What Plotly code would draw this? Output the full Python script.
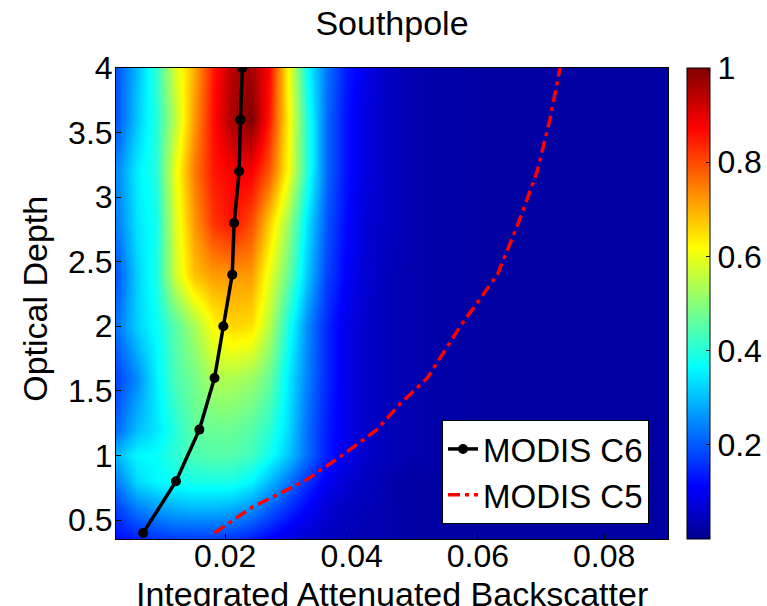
import plotly.graph_objects as go

# ---- data -------------------------------------------------------------
x_cols = [0.003, 0.006, 0.009, 0.012, 0.015, 0.018, 0.021, 0.024, 0.027, 0.030,
          0.033, 0.036, 0.039, 0.042, 0.046, 0.050, 0.060, 0.070, 0.080, 0.090]
y_rows = [0.35, 0.6, 0.8, 1.0, 1.2, 1.6, 2.0, 2.4, 2.8, 3.2, 3.6, 4.0]

z_r035 = [0.12, 0.14, 0.16, 0.17, 0.17, 0.17, 0.16, 0.14, 0.11, 0.08, 0.06, 0.05, 0.04, 0.03, 0.03, 0.02, 0.02, 0.02, 0.02, 0.02]
z_r060 = [0.18, 0.24, 0.27, 0.29, 0.30, 0.30, 0.29, 0.26, 0.21, 0.16, 0.11, 0.07, 0.05, 0.04, 0.03, 0.02, 0.02, 0.02, 0.02, 0.02]
z_r080 = [0.24, 0.33, 0.36, 0.38, 0.39, 0.39, 0.39, 0.36, 0.30, 0.23, 0.16, 0.10, 0.07, 0.05, 0.03, 0.02, 0.02, 0.02, 0.02, 0.02]
z_r100 = [0.30, 0.36, 0.37, 0.41, 0.44, 0.45, 0.45, 0.43, 0.38, 0.31, 0.22, 0.14, 0.09, 0.06, 0.04, 0.03, 0.02, 0.02, 0.02, 0.02]
z_r120 = [0.22, 0.30, 0.34, 0.40, 0.46, 0.47, 0.47, 0.45, 0.41, 0.33, 0.22, 0.14, 0.09, 0.06, 0.04, 0.03, 0.02, 0.02, 0.02, 0.02]
z_r160 = [0.18, 0.25, 0.35, 0.44, 0.48, 0.54, 0.54, 0.52, 0.47, 0.35, 0.24, 0.15, 0.09, 0.06, 0.04, 0.03, 0.02, 0.02, 0.02, 0.02]
z_r200 = [0.23, 0.32, 0.37, 0.45, 0.53, 0.62, 0.66, 0.65, 0.55, 0.39, 0.25, 0.15, 0.09, 0.06, 0.04, 0.03, 0.02, 0.02, 0.02, 0.02]
z_r240 = [0.20, 0.32, 0.39, 0.57, 0.68, 0.72, 0.72, 0.72, 0.60, 0.47, 0.31, 0.18, 0.11, 0.07, 0.04, 0.03, 0.02, 0.02, 0.02, 0.02]
z_r280 = [0.24, 0.34, 0.38, 0.58, 0.72, 0.82, 0.86, 0.80, 0.67, 0.52, 0.34, 0.20, 0.12, 0.07, 0.05, 0.03, 0.02, 0.02, 0.02, 0.02]
z_r320 = [0.25, 0.35, 0.40, 0.60, 0.75, 0.85, 0.88, 0.88, 0.79, 0.62, 0.40, 0.22, 0.13, 0.08, 0.05, 0.03, 0.02, 0.02, 0.02, 0.02]
z_r360 = [0.20, 0.31, 0.40, 0.55, 0.72, 0.86, 0.96, 1.00, 0.85, 0.63, 0.40, 0.22, 0.13, 0.08, 0.05, 0.03, 0.02, 0.02, 0.02, 0.02]
z_r400 = [0.20, 0.30, 0.41, 0.58, 0.70, 0.85, 0.95, 0.97, 0.87, 0.62, 0.37, 0.23, 0.14, 0.09, 0.05, 0.03, 0.02, 0.02, 0.02, 0.02]

c6_x = [0.0070, 0.0122, 0.0159, 0.0183, 0.0197, 0.0211, 0.0214, 0.0222, 0.0224, 0.0227]
c6_y = [0.4, 0.8, 1.2, 1.6, 2.0, 2.4, 2.8, 3.2, 3.6, 4.0]

c5_x = [0.0183, 0.0243, 0.0325, 0.0385, 0.0440, 0.0477, 0.0520, 0.0572, 0.0631, 0.0664, 0.0694, 0.0714, 0.0730]
c5_y = [0.4, 0.6, 0.8, 1.0, 1.2, 1.4, 1.6, 2.0, 2.4, 2.8, 3.2, 3.6, 4.0]

x_ticks = [0.02, 0.04, 0.06, 0.08]
x_ticklabels = ["0.02", "0.04", "0.06", "0.08"]
y_ticks = [0.5, 1, 1.5, 2, 2.5, 3, 3.5, 4]
y_ticklabels = ["0.5", "1", "1.5", "2", "2.5", "3", "3.5", "4"]
cb_ticks = [0.2, 0.4, 0.6, 0.8, 1.0]
cb_ticklabels = ["0.2", "0.4", "0.6", "0.8", "1"]

z = [z_r035, z_r060, z_r080, z_r100, z_r120, z_r160, z_r200,
     z_r240, z_r280, z_r320, z_r360, z_r400]

# MATLAB-style jet
jet = [
    [0.0, "rgb(0,0,143)"],
    [0.111, "rgb(0,0,255)"],
    [0.365, "rgb(0,255,255)"],
    [0.619, "rgb(255,255,0)"],
    [0.873, "rgb(255,0,0)"],
    [1.0, "rgb(128,0,0)"],
]

FONT = "Liberation Sans, Arial, Helvetica, sans-serif"
FS_TICK = 32
FS_LABEL = 34
FS_LEG = 33

fig = go.Figure()
fig.add_trace(go.Heatmap(
    x=x_cols, y=y_rows, z=z, zmin=0, zmax=1, colorscale=jet, zsmooth="best",
    showscale=True, hoverinfo="skip",
    colorbar=dict(
        x=1.0344, xanchor="left", y=0.5, yanchor="middle",
        len=1, lenmode="fraction", thickness=23,
        outlinecolor="black", outlinewidth=1,
        tickvals=cb_ticks, ticktext=cb_ticklabels,
        ticks="inside", ticklen=4, tickcolor="black",
        tickfont=dict(family=FONT, size=FS_TICK, color="black"),
        xpad=0, ypad=0,
    ),
))
fig.add_trace(go.Scatter(
    x=c6_x, y=c6_y, mode="lines+markers", name="MODIS C6",
    line=dict(color="black", width=3.5),
    marker=dict(color="black", size=10),
))
fig.add_trace(go.Scatter(
    x=c5_x, y=c5_y, mode="lines", name="MODIS C5",
    line=dict(color="red", width=3.5, dash="12px,5px,4px,5px"),
))

fig.update_layout(
    width=767, height=606,
    margin=dict(l=116, r=99, t=68, b=67, autoexpand=False),
    paper_bgcolor="white", plot_bgcolor="white",
    font=dict(family=FONT, size=FS_TICK, color="black"),
    title=dict(text="Southpole", x=0.5, xref="paper", xanchor="center",
               y=1 - 11 / 606, yref="container", yanchor="top",
               font=dict(family=FONT, size=FS_LABEL, color="black")),
    showlegend=True,
    legend=dict(
        x=0.5906, y=0.2527, xanchor="left", yanchor="top",
        bgcolor="white", bordercolor="black", borderwidth=1,
        font=dict(family=FONT, size=FS_LEG, color="black"),
        tracegroupgap=0, itemwidth=30,
    ),
    annotations=[
        dict(text="Integrated Attenuated Backscatter", xref="paper", yref="paper",
             x=0.5, y=-0.1168, xanchor="center", yanchor="middle", showarrow=False,
             font=dict(family=FONT, size=FS_LABEL, color="black")),
        dict(text="Optical Depth", xref="paper", yref="paper",
             x=-0.1467, y=0.51, xanchor="center", yanchor="middle", showarrow=False,
             textangle=-90, font=dict(family=FONT, size=FS_LABEL, color="black")),
    ],
)
fig.update_xaxes(
    range=[0.0027, 0.0901], tickvals=x_ticks, ticktext=x_ticklabels,
    ticks="inside", ticklen=5, tickcolor="black", showline=True,
    linecolor="black", linewidth=1, mirror=True, showgrid=False, zeroline=False,
    tickfont=dict(family=FONT, size=FS_TICK, color="black"),
    ticklabelstandoff=-11, automargin=False,
)
fig.update_yaxes(
    range=[0.353, 4.0], tickvals=y_ticks, ticktext=y_ticklabels,
    ticks="inside", ticklen=5, tickcolor="black", showline=True,
    linecolor="black", linewidth=1, mirror=True, showgrid=False, zeroline=False,
    tickfont=dict(family=FONT, size=FS_TICK, color="black"),
    ticklabelstandoff=-4, automargin=False,
)

fig.write_html("out.html", config={"displayModeBar": False},
               post_script="document.body.style.margin='0px';")
